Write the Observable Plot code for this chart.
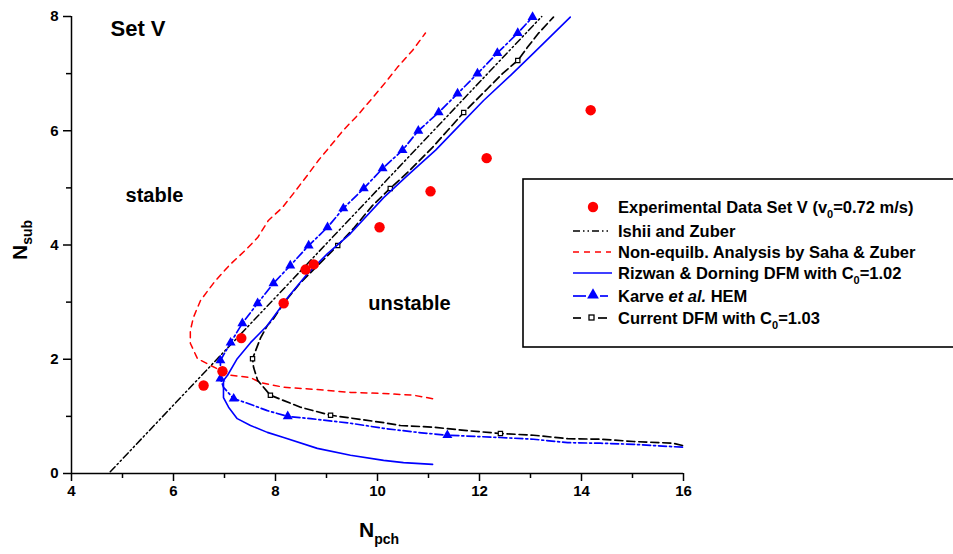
<!DOCTYPE html>
<html><head><meta charset="utf-8">
<script src="https://cdn.jsdelivr.net/npm/d3@7"></script>
<script src="https://cdn.jsdelivr.net/npm/@observablehq/plot@0.6"></script>
<style>
body{margin:0;background:#fff}
svg{font-family:"Liberation Sans",Arial,sans-serif}
</style>
</head><body><div id="chart"></div>
<script>
// ---------- data ----------
const expPoints = [[6.59,1.54],[6.96,1.79],[7.33,2.37],[8.16,2.98],[8.59,3.57],[8.75,3.66],[10.04,4.31],[11.04,4.94],[12.14,5.52],[14.18,6.36]];
const ishii = [[4.76,0.03],[13.22,8.0]];
const saha = [[11.08,1.31],[10.71,1.37],[10.12,1.40],[9.47,1.42],[8.82,1.47],[8.16,1.51],[7.71,1.59],[7.51,1.68],[7.12,1.72],[6.73,1.89],[6.47,2.01],[6.33,2.28],[6.33,2.50],[6.39,2.73],[6.53,3.03],[6.80,3.35],[7.10,3.65],[7.40,3.90],[7.65,4.13],[7.86,4.43],[8.14,4.66],[8.35,4.90],[8.65,5.25],[8.84,5.48],[9.12,5.78],[9.33,6.01],[9.61,6.27],[9.86,6.53],[10.16,6.85],[10.39,7.11],[10.69,7.41],[10.94,7.71]];
const rizwan = [[11.08,0.16],[10.51,0.19],[10.12,0.23],[9.47,0.32],[8.82,0.44],[8.16,0.63],[7.84,0.72],[7.51,0.84],[7.25,0.96],[7.08,1.16],[6.98,1.33],[6.98,1.54],[6.98,1.63],[7.06,1.72],[7.25,2.01],[7.51,2.29],[7.84,2.59],[8.16,2.98],[8.24,3.08],[8.63,3.50],[9.02,3.85],[9.47,4.20],[10.12,4.83],[10.59,5.22],[11.14,5.66],[11.57,6.06],[12.08,6.53],[12.61,6.97],[13.06,7.36],[13.78,7.99]];
const karve = [[15.98,0.46],[15.02,0.51],[14.37,0.53],[13.73,0.54],[13.06,0.60],[12.41,0.63],[11.37,0.67],[10.78,0.72],[10.12,0.79],[9.47,0.88],[8.69,0.96],[8.24,1.00],[7.84,1.10],[7.45,1.23],[7.18,1.31],[6.98,1.51],[6.92,1.66],[6.92,1.98],[7.12,2.29],[7.35,2.63],[7.65,2.98],[7.96,3.33],[8.29,3.64],[8.65,3.99],[9.02,4.31],[9.33,4.64],[9.73,4.99],[10.10,5.34],[10.49,5.66],[10.80,6.00],[11.20,6.32],[11.57,6.65],[11.96,7.00],[12.35,7.36],[12.75,7.71],[13.04,7.99]];
const karveMarkers = [[11.37,0.67],[8.24,1.00],[7.18,1.31],[6.92,1.66],[6.92,1.98],[7.12,2.29],[7.35,2.63],[7.65,2.98],[7.96,3.33],[8.29,3.64],[8.65,3.99],[9.02,4.31],[9.33,4.64],[9.73,4.99],[10.10,5.34],[10.49,5.66],[10.80,6.00],[11.20,6.32],[11.57,6.65],[11.96,7.00],[12.35,7.36],[12.75,7.71],[13.04,7.99]];
const current = [[15.98,0.49],[15.80,0.53],[15.02,0.56],[14.37,0.60],[13.73,0.61],[13.06,0.67],[12.41,0.70],[11.76,0.75],[11.10,0.81],[10.45,0.84],[10.12,0.89],[9.08,1.02],[8.49,1.16],[7.90,1.37],[7.65,1.63],[7.57,1.86],[7.55,2.01],[7.61,2.15],[7.71,2.38],[7.84,2.59],[7.96,2.71],[8.16,2.98],[8.49,3.34],[9.22,3.99],[9.53,4.29],[9.90,4.69],[10.25,4.99],[10.59,5.27],[11.08,5.71],[11.37,6.00],[11.69,6.32],[12.16,6.74],[12.45,7.00],[12.75,7.23],[12.94,7.46],[13.16,7.71],[13.45,7.99]];
const currentMarkers = [[12.41,0.70],[9.08,1.02],[7.90,1.37],[7.55,2.01],[8.16,2.98],[9.22,3.99],[10.25,4.99],[11.69,6.32],[12.75,7.23]];

const xMajor = [4,6,8,10,12,14,16];
const xMinor = [5,7,9,11,13,15];
const yMajor = [0,2,4,6,8];
const yMinor = [1,3,5,7];

const annotations = [
  {x:4.765, y:7.78, text:"Set V", size:22},
  {x:5.06, y:4.87, text:"stable", size:20},
  {x:9.82, y:2.98, text:"unstable", size:20}
];

const legendItems = [
  {kind:"dot", parts:[["Experimental Data Set V (v"],["0","sub"],["=0.72 m/s)"]]},
  {kind:"ishii", parts:[["Ishii and Zuber"]]},
  {kind:"saha", parts:[["Non-equilb. Analysis by Saha & Zuber"]]},
  {kind:"rizwan", parts:[["Rizwan & Dorning DFM with C"],["0","sub"],["=1.02"]]},
  {kind:"karve", parts:[["Karve "],["et al.","it"],[" HEM"]]},
  {kind:"current", parts:[["Current DFM with C"],["0","sub"],["=1.03"]]}
];

// ---------- styles ----------
const BLUE = "#0000ff", RED = "#ff0000";
const dashIshii = "7,3,1.5,3,1.5,3";
const dashSaha = "6,5";
const dashKarve = "8,3,2,3";
const dashCurrent = "8,4";

const X = d => d[0], Y = d => d[1];

const chart = Plot.plot({
  width: 953, height: 554,
  marginLeft: 71, marginRight: 270, marginTop: 16, marginBottom: 81,
  x: {domain: [4, 16]},
  y: {domain: [0, 8]},
  style: {fontFamily: '"Liberation Sans", Arial, sans-serif', fontSize: "15px", fontWeight: "bold", color: "black", background: "white"},
  marks: [
    Plot.axisX(xMajor, {tickSize: 8, tickPadding: 4, strokeWidth: 1.5, label: null, tickFormat: "d", fontWeight: "bold"}),
    Plot.axisX(xMinor, {tickSize: 5, strokeWidth: 1.5, tickFormat: () => "", label: null}),
    Plot.axisY(yMajor, {tickSize: 8, tickPadding: 5, strokeWidth: 1.5, label: null, tickFormat: "d", fontWeight: "bold"}),
    Plot.axisY(yMinor, {tickSize: 5, strokeWidth: 1.5, tickFormat: () => "", label: null}),
    Plot.ruleY([0], {x1: 4, x2: 16, stroke: "black", strokeWidth: 1.5}),
    Plot.ruleX([4], {y1: 0, y2: 8, stroke: "black", strokeWidth: 1.5}),
    Plot.line(saha, {x: X, y: Y, stroke: RED, strokeWidth: 1.5, strokeDasharray: dashSaha}),
    Plot.line(ishii, {x: X, y: Y, stroke: "black", strokeWidth: 1.5, strokeDasharray: dashIshii}),
    Plot.line(current, {x: X, y: Y, stroke: "black", strokeWidth: 1.7, strokeDasharray: dashCurrent}),
    Plot.dot(currentMarkers, {x: X, y: Y, symbol: "square", r: 2.4, stroke: "black", strokeWidth: 1.2, fill: "white"}),
    Plot.line(rizwan, {x: X, y: Y, stroke: BLUE, strokeWidth: 1.6}),
    Plot.line(karve, {x: X, y: Y, stroke: BLUE, strokeWidth: 1.7, strokeDasharray: dashKarve}),
    Plot.dot(karveMarkers, {x: X, y: Y, symbol: "triangle", r: 3.7, fill: BLUE, stroke: "none"}),
    Plot.dot(expPoints, {x: X, y: Y, r: 5.2, fill: RED, stroke: "none"}),
    Plot.text(annotations.filter(d => d.size === 22), {x: "x", y: "y", text: "text", textAnchor: "start", fontSize: 22, fontWeight: "bold", fill: "black"}),
    Plot.text(annotations.filter(d => d.size === 20), {x: "x", y: "y", text: "text", textAnchor: "start", fontSize: 20, fontWeight: "bold", fill: "black"})
  ]
});

document.getElementById("chart").appendChild(chart);

// ---------- axis titles and legend (added to the same SVG) ----------
const svg = d3.select(chart);
const font = '"Liberation Sans", Arial, sans-serif';

const ty = svg.append("text").attr("transform", "translate(27,240) rotate(-90)")
  .attr("text-anchor", "middle").attr("font-family", font).attr("font-weight", "bold")
  .attr("font-size", 21).attr("fill", "black");
ty.append("tspan").text("N");
ty.append("tspan").attr("font-size", 14).attr("dy", 5).text("sub");

const tx = svg.append("text").attr("x", 359).attr("y", 537)
  .attr("text-anchor", "start").attr("font-family", font).attr("font-weight", "bold")
  .attr("font-size", 21).attr("fill", "black");
tx.append("tspan").text("N");
tx.append("tspan").attr("font-size", 14).attr("dy", 7).text("pch");

const lg = svg.append("g");
lg.append("rect").attr("x", 523).attr("y", 179).attr("width", 440).attr("height", 168)
  .attr("fill", "white").attr("stroke", "black").attr("stroke-width", 1.6);

const rowY = [207, 231, 252, 273, 296, 318];
legendItems.forEach((item, i) => {
  const y = rowY[i];
  const g = lg.append("g");
  if (item.kind === "dot") {
    g.append("circle").attr("cx", 593).attr("cy", y).attr("r", 5.2).attr("fill", RED);
  } else if (item.kind === "ishii") {
    g.append("line").attr("x1", 573).attr("x2", 610).attr("y1", y).attr("y2", y)
      .attr("stroke", "black").attr("stroke-width", 1.5).attr("stroke-dasharray", dashIshii);
  } else if (item.kind === "saha") {
    g.append("line").attr("x1", 573).attr("x2", 611).attr("y1", y).attr("y2", y)
      .attr("stroke", RED).attr("stroke-width", 1.5).attr("stroke-dasharray", dashSaha);
  } else if (item.kind === "rizwan") {
    g.append("line").attr("x1", 573).attr("x2", 612).attr("y1", y).attr("y2", y)
      .attr("stroke", BLUE).attr("stroke-width", 1.6);
  } else if (item.kind === "karve") {
    g.append("line").attr("x1", 573).attr("x2", 586).attr("y1", y).attr("y2", y).attr("stroke", BLUE).attr("stroke-width", 1.7);
    g.append("line").attr("x1", 600).attr("x2", 608).attr("y1", y).attr("y2", y).attr("stroke", BLUE).attr("stroke-width", 1.7);
    g.append("path").attr("d", d3.symbol(d3.symbolTriangle, 60)()).attr("transform", `translate(593,${y - 1})`).attr("fill", BLUE);
  } else if (item.kind === "current") {
    g.append("line").attr("x1", 573).attr("x2", 581).attr("y1", y).attr("y2", y).attr("stroke", "black").attr("stroke-width", 1.7);
    g.append("line").attr("x1", 598).attr("x2", 607).attr("y1", y).attr("y2", y).attr("stroke", "black").attr("stroke-width", 1.7);
    g.append("rect").attr("x", 589).attr("y", y - 3).attr("width", 5).attr("height", 5)
      .attr("fill", "white").attr("stroke", "black").attr("stroke-width", 1.3);
  }
  const t = g.append("text").attr("x", 618).attr("y", y + 6).attr("text-anchor", "start")
    .attr("font-family", font).attr("font-weight", "bold").attr("font-size", 16.5).attr("fill", "black");
  let afterSub = false;
  item.parts.forEach(([s, st]) => {
    if (st === "sub") {
      t.append("tspan").attr("font-size", 11).attr("dy", 5).text(s);
      afterSub = true;
    } else {
      const sp = t.append("tspan").text(s);
      if (st === "it") sp.attr("font-style", "italic");
      if (afterSub) { sp.attr("dy", -5); afterSub = false; }
    }
  });
});
</script>
</body></html>
